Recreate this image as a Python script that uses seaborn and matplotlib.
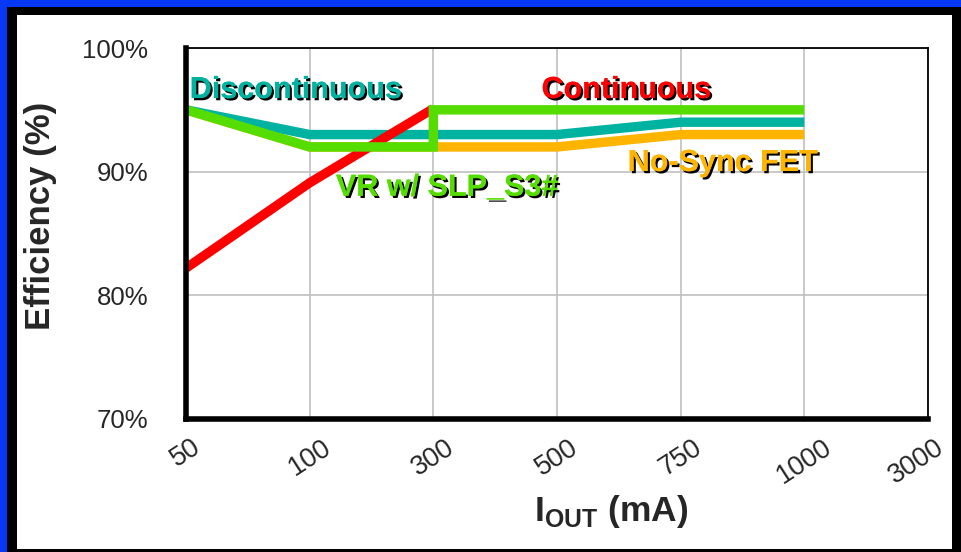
import matplotlib
matplotlib.use("Agg")
import matplotlib.pyplot as plt
import matplotlib.patheffects as pe
import matplotlib.transforms as mtransforms
from matplotlib.patches import Rectangle
import seaborn as sns

sns.set_style("white")
plt.rcParams['font.family'] = ['Liberation Sans', 'DejaVu Sans']
plt.rcParams['mathtext.fontset'] = 'custom'
plt.rcParams['mathtext.rm'] = 'Liberation Sans:bold'
plt.rcParams['mathtext.bf'] = 'Liberation Sans:bold'

# ----- data -----
categories = ['50', '100', '300', '500', '750', '1000', '3000']
y_ticks = [70, 80, 90, 100]
y_tick_labels = ['70%', '80%', '90%', '100%']

cont_x = ['50', '100', '300']
cont_y = [82.2, 89.1, 95.1]

disc_x = ['50', '100', '300', '500', '750', '1000']
disc_y = [95, 93, 93, 93, 94, 94]

nosync_x = ['50', '100', '300', '500', '750', '1000']
nosync_y = [95, 92, 92, 92, 93, 93]

# VR w/ SLP_S3#: step up at 300 mA
vr_x = ['50', '100', '300', '300', '500', '750', '1000']
vr_y = [95, 92, 92, 95, 95, 95, 95]

pos = {c: i for i, c in enumerate(categories)}

c_red = '#FF0000'
c_teal = '#00B3A1'
c_orange = '#FFB400'
c_green = '#55DD00'

fig = plt.figure(figsize=(9.61, 5.52), dpi=100)
fig.patch.set_facecolor('#0537F5')
fig.add_artist(Rectangle((7 / 961, 0), 954 / 961, 545 / 552, transform=fig.transFigure,
                         facecolor='black', edgecolor='none', zorder=-10))
fig.add_artist(Rectangle((17 / 961, 3 / 552), 935 / 961, 534 / 552, transform=fig.transFigure,
                         facecolor='white', edgecolor='none', zorder=-9))

ax = fig.add_axes([186 / 961, 1 - 419 / 552, 742 / 961, 371 / 552])
ax.set_facecolor('none')

lw = 6.8
line_kw = dict(sort=False, estimator=None, lw=lw, ax=ax)
sns.lineplot(x=[pos[c] for c in nosync_x], y=nosync_y, color=c_orange, zorder=3, **line_kw)
sns.lineplot(x=[pos[c] for c in disc_x], y=disc_y, color=c_teal, zorder=4, **line_kw)
sns.lineplot(x=[pos[c] for c in cont_x], y=cont_y, color=c_red, zorder=5, **line_kw)
sns.lineplot(x=[pos[c] for c in vr_x], y=vr_y, color=c_green, zorder=6, **line_kw)
for ln in ax.lines:
    ln.set_solid_joinstyle('miter')
    ln.set_solid_capstyle('butt')

ax.set_xlim(0, 6)
ax.set_ylim(70, 100)
ax.set_xticks(range(len(categories)))
ax.set_xticklabels(categories, rotation=33, fontsize=19.5, ha='center', va='top')
ax.set_yticks(y_ticks)
ax.set_yticklabels(y_tick_labels, fontsize=18.5)

ax.grid(True, color='#C0C0C0', lw=1.2)
ax.set_axisbelow(True)
ax.tick_params(axis='y', direction='out', length=18, width=1.2, color='#C0C0C0', pad=9)
ax.tick_params(axis='x', direction='out', length=8, width=1.2, color='#C0C0C0', pad=3)

# last label pulled in so it stays inside the panel
last = ax.get_xticklabels()[-1]
last.set_transform(last.get_transform() + mtransforms.ScaledTranslation(-12 / 100, 0, fig.dpi_scale_trans))

for sp in ['left', 'bottom']:
    ax.spines[sp].set_linewidth(4)
    ax.spines[sp].set_color('black')
    ax.spines[sp].set_zorder(7)
for sp in ['top', 'right']:
    ax.spines[sp].set_linewidth(1.3)
    ax.spines[sp].set_color('black')
    ax.spines[sp].set_visible(True)

yt = ax.yaxis.get_major_ticks()
yt[0].tick1line.set_color('black'); yt[0].tick1line.set_markeredgewidth(4)
yt[-1].tick1line.set_color('black'); yt[-1].tick1line.set_markeredgewidth(1.3)
xt = ax.xaxis.get_major_ticks()
xt[0].tick1line.set_color('black'); xt[0].tick1line.set_markeredgewidth(4)
xt[-1].tick1line.set_color('black'); xt[-1].tick1line.set_markeredgewidth(1.3)

ax.set_ylabel('Efficiency (%)', fontsize=25, fontweight='bold')
ax.yaxis.set_label_coords(-0.174, 0.547)
ax.set_xlabel(r'I$_{\mathrm{OUT}}$ (mA)', fontsize=25.5, fontweight='bold')
ax.xaxis.set_label_coords(0.573, -0.2)

shadow = [pe.withSimplePatchShadow(offset=(1.6, -1.6), shadow_rgbFace='black', alpha=1.0), pe.Normal()]
lab_kw = dict(fontsize=22, fontweight='bold', va='center', path_effects=shadow, zorder=10)
ax.text(0.03, 96.6, 'Discontinuous', color=c_teal, ha='left', **lab_kw)
ax.text(3.56, 96.6, 'Continuous', color=c_red, ha='center', **lab_kw)
ax.text(4.34, 90.7, 'No-Sync FET', color=c_orange, ha='center', **lab_kw)
ax.text(2.11, 88.7, 'VR w/ SLP_S3#', color=c_green, ha='center', **lab_kw)

fig.savefig('out.png', dpi=100, facecolor=fig.get_facecolor())
